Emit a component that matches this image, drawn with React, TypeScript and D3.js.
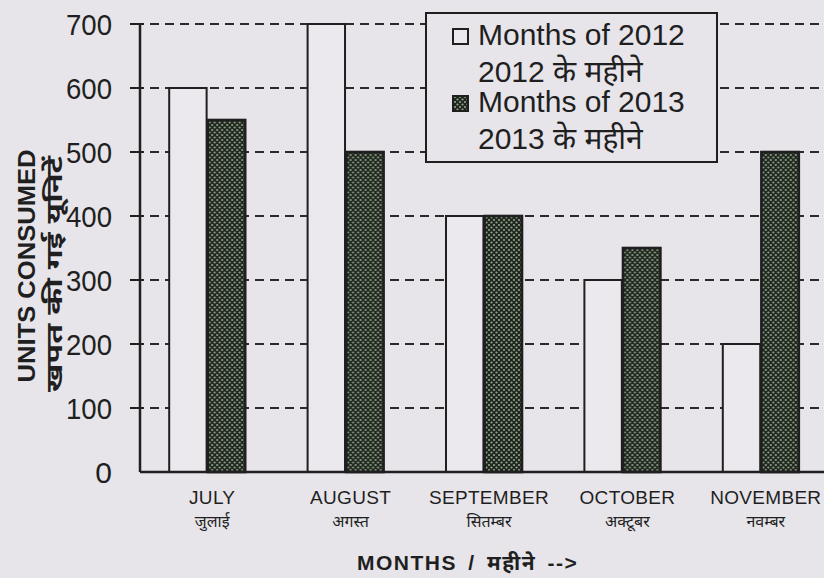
import * as d3 from 'd3';

const months = ['JULY', 'AUGUST', 'SEPTEMBER', 'OCTOBER', 'NOVEMBER'];
const monthsHindi = ['जुलाई', 'अगस्त', 'सितम्बर', 'अक्टूबर', 'नवम्बर'];
const years = ['2012', '2013'];
const units2012 = [600, 700, 400, 300, 200];
const units2013 = [550, 500, 400, 350, 500];
const yTicks = [0, 100, 200, 300, 400, 500, 600, 700];
const legendLines = [
  ['Months of 2012', '2012 के  महीने'],
  ['Months of 2013', '2013 के  महीने'],
];

const W = 824;
const H = 578;
const BG = '#e7e5ea';
const INK = '#1f1f1f';
const FONT = '"Liberation Sans", Arial, "Noto Sans", sans-serif';

export default function App() {
  const x0 = d3.scaleBand<string>().domain(months).range([138, 830]).paddingInner(0).paddingOuter(0);
  const x1 = d3.scaleBand<string>().domain(years).range([-38, 38]).paddingInner(0.03);
  const y = d3.scaleLinear().domain([0, 700]).range([472, 24]);
  const axisX = 140;
  const series = [units2012, units2013];

  return (
    <svg width={W} height={H} style={{ position: 'absolute', left: 0, top: 0, background: BG }} fontFamily={FONT}>
      <defs>
        <pattern id="hatch" width="5" height="5" patternUnits="userSpaceOnUse">
          <rect width="5" height="5" fill="#1d271c" />
          <circle cx="0" cy="0" r="1.1" fill="#97a290" />
          <circle cx="5" cy="0" r="1.1" fill="#97a290" />
          <circle cx="0" cy="5" r="1.1" fill="#97a290" />
          <circle cx="5" cy="5" r="1.1" fill="#97a290" />
          <circle cx="2.5" cy="2.5" r="1.1" fill="#97a290" />
        </pattern>
      </defs>
      <rect width={W} height={H} fill={BG} />

      {/* gridlines + ticks */}
      {yTicks.filter((t) => t > 0).map((t) => (
        <g key={t}>
          <line x1={axisX} x2={W} y1={y(t)} y2={y(t)} stroke="#2a2a2a" strokeWidth={2.2} strokeDasharray="9,6" strokeDashoffset={-10} />
          <line x1={axisX - 10} x2={axisX + 3} y1={y(t)} y2={y(t)} stroke={INK} strokeWidth={2} />
        </g>
      ))}

      {/* bars */}
      {months.map((m, i) => (
        <g key={m} transform={`translate(${x0(m)! + x0.bandwidth() / 2},0)`}>
          {years.map((yr, j) => (
            <rect
              key={yr}
              x={x1(yr)}
              y={y(series[j][i])}
              width={x1.bandwidth()}
              height={y(0) - y(series[j][i])}
              fill={j === 0 ? '#ebe9ee' : 'url(#hatch)'}
              stroke={INK}
              strokeWidth={j === 0 ? 2 : 2.6}
            />
          ))}
        </g>
      ))}

      {/* axes */}
      <line x1={axisX} x2={axisX} y1={y(700)} y2={y(0)} stroke={INK} strokeWidth={2.5} />
      <line x1={axisX - 10} x2={axisX + 3} y1={y(700)} y2={y(700)} stroke={INK} strokeWidth={2} />
      <line x1={axisX} x2={W} y1={y(0)} y2={y(0)} stroke={INK} strokeWidth={2.5} />

      {yTicks.map((t) => (
        <text key={t} x={112} y={y(t) + 11} textAnchor="end" fontSize={30} fill={INK} textLength={t === 0 ? undefined : 46} lengthAdjust="spacingAndGlyphs">
          {t}
        </text>
      ))}

      {/* x labels */}
      {months.map((m, i) => (
        <g key={m} transform={`translate(${x0(m)! + x0.bandwidth() / 2 + 5},0)`}>
          <text y={504} textAnchor="middle" fontSize={19} fill={INK} style={{ letterSpacing: '0.3px' }}>{m}</text>
          <text y={527} textAnchor="middle" fontSize={16} fill={INK}>{monthsHindi[i]}</text>
        </g>
      ))}

      <text x={357} y={570} fontSize={21} fontWeight="bold" fill={INK} style={{ letterSpacing: '1.5px', wordSpacing: '4px' }}>
        MONTHS / महीने  --&gt;
      </text>

      {/* y title */}
      <g transform="translate(35,266) rotate(-90)">
        <text x={0} y={0} textAnchor="middle" fontSize={24} fontWeight="bold" fill={INK} textLength={233} lengthAdjust="spacingAndGlyphs">UNITS CONSUMED</text>
        <text x={-8} y={27} textAnchor="middle" fontSize={23} fontWeight="bold" fill={INK} textLength={236} lengthAdjust="spacingAndGlyphs">खपत की गई यूनिटें</text>
      </g>

      {/* legend */}
      <rect x={426} y={13} width={291} height={149} fill={BG} stroke={INK} strokeWidth={2} />
      {legendLines.map((lines, k) => (
        <g key={k} transform={`translate(0,${k * 67})`}>
          <rect x={453} y={29} width={15} height={15} fill={k === 0 ? '#ebe9ee' : 'url(#hatch)'} stroke={INK} strokeWidth={2} />
          <text x={478} y={45} fontSize={30} fill={INK}>{lines[0]}</text>
          <text x={478} y={82} fontSize={30} fill={INK}>{lines[1]}</text>
        </g>
      ))}
    </svg>
  );
}
